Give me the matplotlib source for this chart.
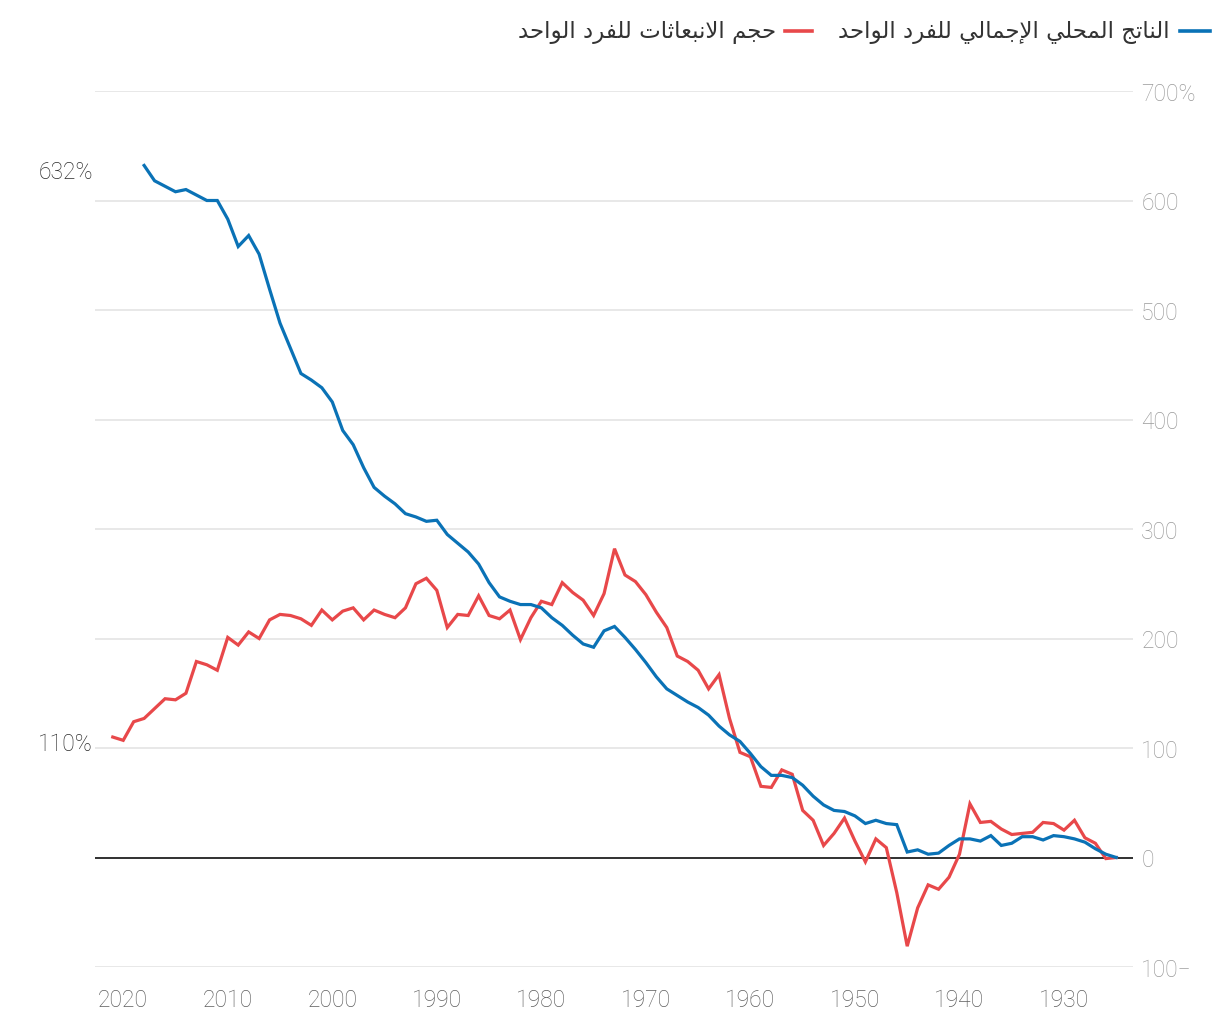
import numpy as np
import matplotlib
matplotlib.use('Agg')
import matplotlib.pyplot as plt
from matplotlib.lines import Line2D

# per-capita change since 1925, in percent
years_emis = list(range(2021, 1924, -1))
emissions = [110, 107, 124, 127, 136, 145, 144, 150, 179, 176,
             171, 201, 194, 206, 200, 217, 222, 221, 218, 212,
             226, 217, 225, 228, 217, 226, 222, 219, 228, 250,
             255, 244, 210, 222, 221, 239, 221, 218, 226, 199,
             219, 234, 231, 251, 242, 235, 221, 241, 282, 258,
             252, 240, 224, 210, 184, 179, 171, 154, 167, 127,
             96, 92, 65, 64, 80, 76, 43, 34, 11, 22,
             36, 15, -4, 17, 9, -32, -81, -46, -25, -29,
             -18, 3, 49, 32, 33, 26, 21, 22, 23, 32,
             31, 25, 34, 18, 13, -1, 0]

years_gdp = list(range(2018, 1924, -1))
gdp = [632, 618, 613, 608, 610, 605, 600, 600, 583, 558,
       568, 551, 519, 488, 465, 442, 436, 429, 416, 390,
       377, 356, 338, 330, 323, 314, 311, 307, 308, 295,
       287, 279, 268, 251, 238, 234, 231, 231, 228, 219,
       212, 203, 195, 192, 207, 211, 201, 190, 178, 165,
       154, 148, 142, 137, 130, 120, 112, 106, 95, 83,
       75, 75, 73, 66, 56, 48, 43, 42, 38, 31,
       34, 31, 30, 5, 7, 3, 4, 11, 17, 17,
       15, 20, 11, 13, 19, 19, 16, 20, 19, 17,
       14, 8, 3, 0]

xticks = [2020, 2010, 2000, 1990, 1980, 1970, 1960, 1950, 1940, 1930]
yticks = [-100, 0, 100, 200, 300, 400, 500, 600, 700]
ytick_labels = ['100\u2212', '0', '100', '200', '300', '400', '500', '600', '700%']

legend_gdp = 'الناتج المحلي الإجمالي للفرد الواحد'
legend_emis = 'حجم الانبعاثات للفرد الواحد'

BLUE = '#0a72b6'
RED = '#e8484a'

# matplotlib has no arabic shaping, so map letters to presentation forms
AR_FORMS = {
    0x0627: (0xFE8D, 2), 0x0625: (0xFE87, 2), 0x0628: (0xFE8F, 4),
    0x062A: (0xFE95, 4), 0x062B: (0xFE99, 4), 0x062C: (0xFE9D, 4),
    0x062D: (0xFEA1, 4), 0x062F: (0xFEA9, 2), 0x0631: (0xFEAD, 2),
    0x0639: (0xFEC9, 4), 0x0641: (0xFED1, 4), 0x0644: (0xFEDD, 4),
    0x0645: (0xFEE1, 4), 0x0646: (0xFEE5, 4), 0x0648: (0xFEED, 2),
    0x064A: (0xFEF1, 4), 0xFEFB: (0xFEFB, 2), 0xFEF9: (0xFEF9, 2),
}

def shape_ar(text):
    text = text.replace('\u0644\u0627', '\uFEFB').replace('\u0644\u0625', '\uFEF9')
    out = []
    for i, ch in enumerate(text):
        c = ord(ch)
        if c not in AR_FORMS:
            out.append(ch)
            continue
        base, n = AR_FORMS[c]
        prev = ord(text[i - 1]) if i > 0 else None
        nxt = ord(text[i + 1]) if i + 1 < len(text) else None
        join_prev = prev in AR_FORMS and AR_FORMS[prev][1] == 4
        join_next = n == 4 and nxt in AR_FORMS
        if join_prev and join_next:
            off = 3
        elif join_next:
            off = 2
        elif join_prev:
            off = 1
        else:
            off = 0
        out.append(chr(base + off))
    return ''.join(reversed(out))


plt.rcParams['font.family'] = ['Roboto', 'DejaVu Sans']
plt.rcParams['font.weight'] = 'light'

fig = plt.figure(figsize=(12.2, 10.2), dpi=100)
ax = fig.add_axes([95 / 1220, 1 - 968 / 1020, (1133 - 95) / 1220, (968 - 92) / 1020])

ax.plot(years_emis, emissions, color=RED, lw=2.3, solid_joinstyle='miter', zorder=3)
ax.plot(years_gdp, gdp, color=BLUE, lw=2.3, solid_joinstyle='miter', zorder=4)
ax.axhline(0, color='#222222', lw=1.3, zorder=2)

ax.set_xlim(2022.7, 1923.4)
ax.set_ylim(-100, 700)
ax.set_xticks(xticks)
ax.set_xticklabels([str(y) for y in xticks])
ax.set_yticks(yticks)
ax.set_yticklabels(ytick_labels)
ax.yaxis.tick_right()
ax.tick_params(axis='x', length=0, pad=15, labelsize=16.5, labelcolor='#5e5e5e')
ax.tick_params(axis='y', length=0, pad=6, labelsize=16.5, labelcolor='#9a9a9a')
ax.grid(axis='y', color='#e4e4e4', lw=1.2)
ax.set_axisbelow(True)
for s in ax.spines.values():
    s.set_visible(False)

ax.annotate('%d%%' % gdp[0], xy=(2022.9, gdp[0]), xytext=(0, -4), textcoords='offset points',
            ha='right', va='center', fontsize=16.5, color='#2a2a2a', annotation_clip=False)
ax.annotate('%d%%' % emissions[0], xy=(2022.9, emissions[0]), xytext=(0, -5), textcoords='offset points',
            ha='right', va='center', fontsize=16.5, color='#2a2a2a', annotation_clip=False)

# legend drawn by hand, right to left
ly = 1 - 32 / 1020
fig.add_artist(Line2D([1180 / 1220, 1210 / 1220], [ly, ly], color=BLUE, lw=2.6))
fig.text(1170 / 1220, ly, shape_ar(legend_gdp), ha='right', va='center', fontsize=16.5,
         color='#333333', family=['DejaVu Sans'], weight='normal')
fig.add_artist(Line2D([785 / 1220, 812 / 1220], [ly, ly], color=RED, lw=2.6))
fig.text(776 / 1220, ly, shape_ar(legend_emis), ha='right', va='center', fontsize=16.5,
         color='#333333', family=['DejaVu Sans'], weight='normal')

fig.savefig('out.png', dpi=100)
